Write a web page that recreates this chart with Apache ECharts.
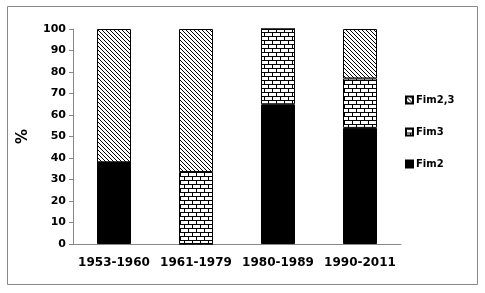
<!DOCTYPE html>
<html><head><meta charset="utf-8">
<script src="https://cdn.jsdelivr.net/npm/echarts@6/dist/echarts.min.js"></script>
<style>html,body{margin:0;padding:0;background:#fff}#c{width:485px;height:293px}</style>
</head><body><div id="c"></div>
<script>
const categories = ['1953-1960','1961-1979','1980-1989','1990-2011'];
const fim2 = [38, 0, 65, 54];
const fim3 = [0, 33.5, 35, 23];
const fim23 = [62, 66.5, 0, 23];
const yTicks = [0,10,20,30,40,50,60,70,80,90,100];

function hatch(){
  const c=document.createElement('canvas');c.width=4;c.height=4;
  const g=c.getContext('2d');g.fillStyle='#fff';g.fillRect(0,0,4,4);g.fillStyle='#000';
  for(let i=0;i<4;i++)g.fillRect(i,i,1,1);
  return c;
}
function brick(){
  const c=document.createElement('canvas');c.width=8;c.height=8;
  const g=c.getContext('2d');g.fillStyle='#fff';g.fillRect(0,0,8,8);g.fillStyle='#000';
  g.fillRect(0,0,8,1);g.fillRect(0,4,8,1);
  g.fillRect(0,1,1,3);g.fillRect(4,5,1,3);
  return c;
}
const hatchPat={image:hatch(),repeat:'repeat'};
const brickPat={image:brick(),repeat:'repeat'};

const chart=echarts.init(document.getElementById('c'),null,{renderer:'canvas'});
const font='DejaVu Sans';
function bar(name,data,color){
  return {name,type:'bar',stack:'s',data,barWidth:34,
    itemStyle:{color,borderColor:'#000',borderWidth:1},
    emphasis:{disabled:true}};
}
chart.setOption({
  animation:false,
  graphic:[{type:'rect',shape:{x:7.5,y:6.5,width:470,height:278},style:{fill:'none',stroke:'#888',lineWidth:1},silent:true}],
  grid:{left:73,top:29,right:84,bottom:49},
  legend:{orient:'vertical',left:400,top:90,itemWidth:7,itemHeight:7,itemGap:22,icon:'rect',
    data:['Fim2,3','Fim3','Fim2'],
    textStyle:{fontFamily:font,fontWeight:'bold',fontSize:10,color:'#000',padding:[0,0,0,-2]}},
  xAxis:{type:'category',data:categories,
    axisLine:{lineStyle:{color:'#888'}},
    axisTick:{lineStyle:{color:'#888'},length:4},
    axisLabel:{interval:0,fontFamily:font,fontWeight:'bold',fontSize:12,color:'#000',margin:13}},
  yAxis:{type:'value',min:0,max:100,interval:10,name:'%',nameLocation:'middle',nameGap:42,
    nameTextStyle:{fontFamily:font,fontWeight:'bold',fontSize:15,color:'#000'},
    splitLine:{show:false},
    axisLine:{show:true,lineStyle:{color:'#888'}},
    axisTick:{show:true,lineStyle:{color:'#888'},length:4},
    axisLabel:{fontFamily:font,fontWeight:'bold',fontSize:11,color:'#000',margin:7,
      formatter:v=>yTicks.includes(v)?String(v):''}},
  series:[bar('Fim2',fim2,'#000'),bar('Fim3',fim3,brickPat),bar('Fim2,3',fim23,hatchPat)]
});
</script></body></html>
